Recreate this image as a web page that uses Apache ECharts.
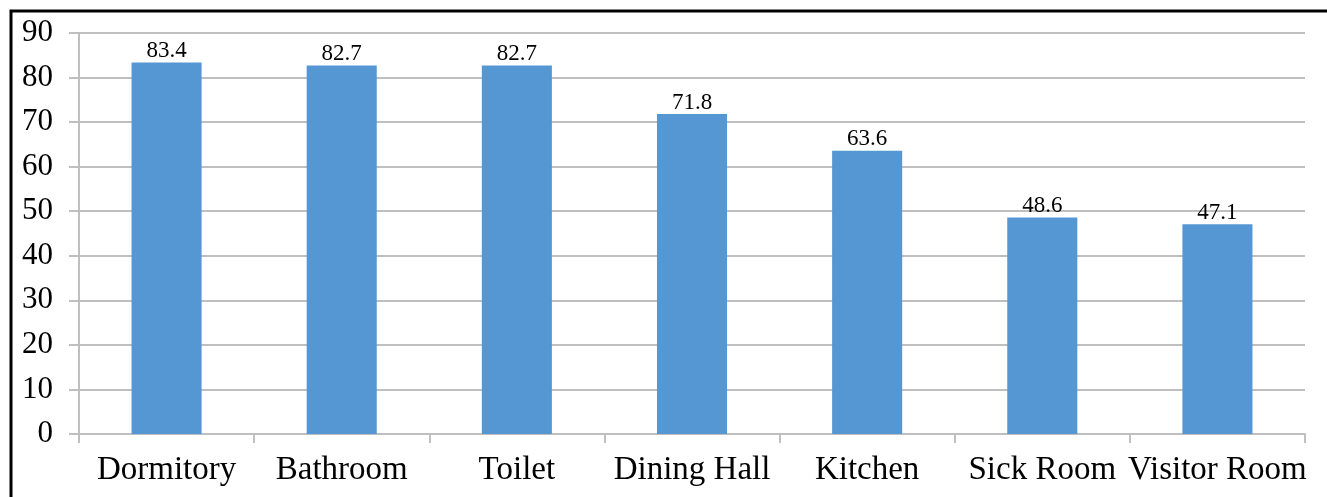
<!DOCTYPE html>
<html>
<head>
<meta charset="utf-8">
<script src="https://cdn.jsdelivr.net/npm/echarts@6/dist/echarts.min.js"></script>
<style>
  html, body { margin: 0; padding: 0; background: #fff; }
  #chart { width: 1327px; height: 497px; }
</style>
</head>
<body>
<div id="chart"></div>
<script>
const categories = ['Dormitory', 'Bathroom', 'Toilet', 'Dining Hall', 'Kitchen', 'Sick Room', 'Visitor Room']
const values = [83.4, 82.7, 82.7, 71.8, 63.6, 48.6, 47.1]

const FONT = '"Liberation Serif", "DejaVu Serif", serif'
const AXIS_GRAY = '#bfbfbf'

const chart = echarts.init(document.getElementById('chart'), null, { renderer: 'canvas' })

chart.setOption({
  animation: false,
  backgroundColor: '#fff',
  grid: { left: 79, right: 22, top: 33, bottom: 63 },
  graphic: [
    {
      type: 'rect',
      shape: { x: 11, y: 11, width: 1400, height: 600 },
      style: { fill: 'none', stroke: '#000', lineWidth: 3 },
      silent: true
    }
  ],
  xAxis: {
    type: 'category',
    data: categories,
    axisLine: { lineStyle: { color: AXIS_GRAY, width: 2 } },
    axisTick: { show: true, interval: 0, length: 9, lineStyle: { color: AXIS_GRAY, width: 2 } },
    axisLabel: { interval: 0, color: '#000', fontFamily: FONT, fontSize: 33, margin: 20 }
  },
  yAxis: {
    type: 'value',
    min: 0,
    max: 90,
    interval: 10,
    axisLine: { show: true, lineStyle: { color: AXIS_GRAY, width: 2 } },
    axisTick: { show: true, length: 10, lineStyle: { color: AXIS_GRAY, width: 2 } },
    axisLabel: { color: '#000', fontFamily: FONT, fontSize: 31, margin: 26 },
    splitLine: { lineStyle: { color: AXIS_GRAY, width: 2 } }
  },
  series: [
    {
      type: 'bar',
      data: values,
      barWidth: '40%',
      itemStyle: { color: '#5597d3' },
      label: {
        show: true,
        position: 'top',
        distance: 0,
        color: '#000',
        fontFamily: FONT,
        fontSize: 23
      }
    }
  ]
})
</script>
</body>
</html>
